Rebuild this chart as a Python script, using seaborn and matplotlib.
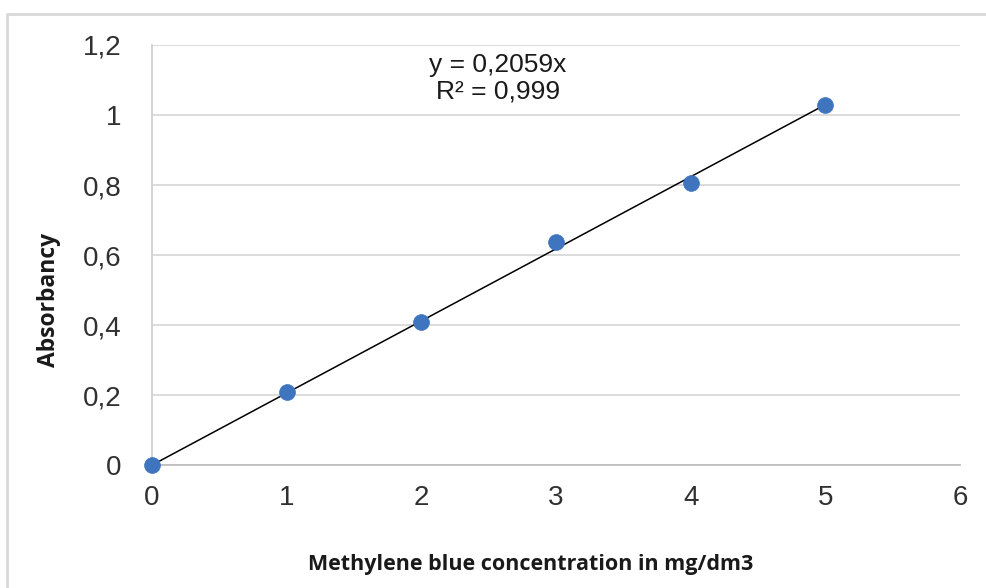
import matplotlib
matplotlib.use("Agg")
import matplotlib.pyplot as plt
import seaborn as sns
import numpy as np
import pandas as pd
from matplotlib.lines import Line2D

concentration = [0, 1, 2, 3, 4, 5]
absorbancy = [0.0, 0.209, 0.409, 0.637, 0.806, 1.029]
slope = 0.2059
x_ticks = [0, 1, 2, 3, 4, 5, 6]
x_tick_labels = ["0", "1", "2", "3", "4", "5", "6"]
y_ticks = [0, 0.2, 0.4, 0.6, 0.8, 1.0, 1.2]
y_tick_labels = ["0", "0,2", "0,4", "0,6", "0,8", "1", "1,2"]
equation_text = "y = 0,2059x\nR² = 0,999"

sns.set_theme(style="white")
plt.rcParams["font.family"] = ["Liberation Sans", "DejaVu Sans"]

df = pd.DataFrame({"conc": concentration, "abs": absorbancy})

fig = plt.figure(figsize=(9.87, 5.88), dpi=100)
ax = fig.add_axes([0.154, 0.209, 0.8186, 0.7145])

# trend line
xs = np.array([concentration[0], concentration[-1]])
ax.plot(xs, slope * xs, color="black", lw=1.1, zorder=3, clip_on=False)

sns.scatterplot(data=df, x="conc", y="abs", ax=ax, s=130, color="#3F74BF",
                edgecolor="#3F74BF", linewidth=0.5, zorder=4, clip_on=False)

ax.set_xlim(0, 6)
ax.set_ylim(0, 1.2)
ax.set_xticks(x_ticks)
ax.set_xticklabels(x_tick_labels)
ax.set_yticks(y_ticks)
ax.set_yticklabels(y_tick_labels)
ax.tick_params(axis="both", length=0, labelsize=20)
ax.tick_params(axis="x", pad=14)
ax.tick_params(axis="y", pad=22)
for lbl in ax.get_xticklabels() + ax.get_yticklabels():
    lbl.set_color("#303030")

ax.grid(axis="y", color="#d9d9d9", lw=1.3)
ax.set_axisbelow(True)
for s in ["top", "right"]:
    ax.spines[s].set_visible(False)
ax.spines["left"].set_color("#d0d0d0")
ax.spines["left"].set_linewidth(1.3)
ax.spines["bottom"].set_color("#bfbfbf")
ax.spines["bottom"].set_linewidth(1.3)

ax.set_xlabel("Methylene blue concentration in mg/dm3", fontsize=15.5,
              fontweight="bold", family=["Open Sans", "DejaVu Sans"], color="#1a1a1a")
ax.set_ylabel("Absorbancy", fontsize=16.5, fontweight="bold",
              family=["Open Sans", "DejaVu Sans"], color="#1a1a1a")
ax.xaxis.set_label_coords(0.469, -0.212)
ax.xaxis.label.set_va("top")
ax.yaxis.set_label_coords(-0.1126, 0.393)

ax.text(498 / 987, 1 - 78 / 588, equation_text, transform=fig.transFigure,
        ha="center", va="center", fontsize=19, linespacing=1.15, color="#1a1a1a")

# outer border
fig.add_artist(Line2D([7 / 987, 1.0], [1 - 14 / 588, 1 - 14 / 588],
                      transform=fig.transFigure, color="#d9d9d9", lw=2))
fig.add_artist(Line2D([7 / 987, 7 / 987], [0.0, 1 - 14 / 588],
                      transform=fig.transFigure, color="#d9d9d9", lw=2))

fig.savefig("out.png", dpi=100)
